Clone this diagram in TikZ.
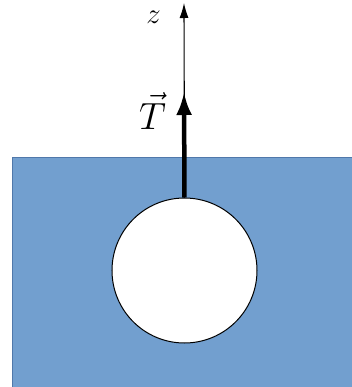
\RequirePackage{fix-cm}
\documentclass[tikz,border=0pt]{standalone}
\usetikzlibrary{arrows.meta}
\definecolor{water}{RGB}{114,159,207}
\definecolor{wateredge}{RGB}{80,120,170}
\tikzset{
  lbl/.style={inner sep=0pt},
  thinarrow/.style={line width=1.1bp, -{Latex[length=15bp,width=9bp]}},
  thickarrow/.style={line width=4.5bp, -{Latex[length=23bp,width=16bp]}},
  ball/.style={circle, draw=black, line width=1bp, fill=white, minimum size=145bp, inner sep=0pt}
}
\begin{document}
\begin{tikzpicture}[x=1bp,y=-1bp]
\useasboundingbox (0,0) rectangle (352,387);
\fill[water] (12,157) rectangle (354,390);
\draw[wateredge, line width=0.8bp] (12.4,390) -- (12.4,157.4) -- (354,157.4);
\node[ball] (ball) at (184.5,270.5) {};
\coordinate (tip) at (184,92);
\coordinate (ztip) at (184,3);
\draw[thinarrow] (ball.north) -- (ztip);
\draw[thickarrow] (ball.north) -- (tip);
\node[lbl, font=\fontsize{29}{32}\selectfont] (zlabel) at (153.5,17) {$z$};
\node[lbl, font=\fontsize{38}{42}\selectfont] (Tlabel) at (152.5,111) {$\vec{T}$};
\end{tikzpicture}
\end{document}
